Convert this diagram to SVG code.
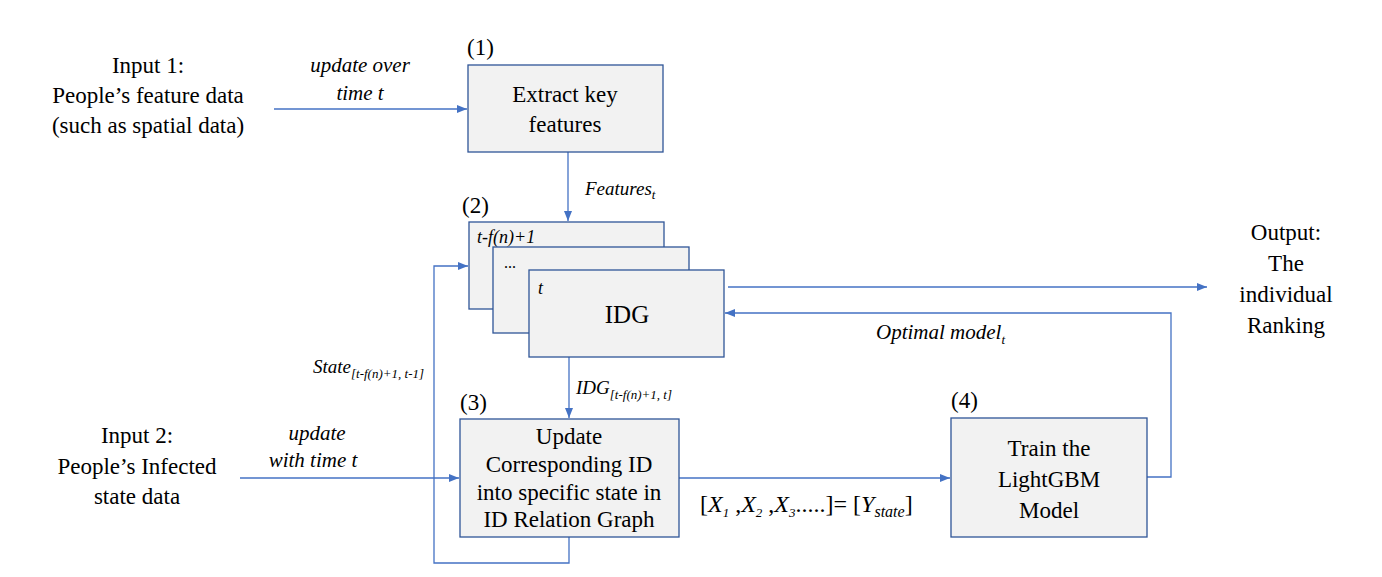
<svg xmlns="http://www.w3.org/2000/svg" width="1382" height="577" viewBox="0 0 1382 577">
<style>
  .box { fill: #F2F2F2; stroke: #2F5597; stroke-width: 1.3; }
  .conn { fill: none; stroke: #4472C4; stroke-width: 1.3; }
</style>
<defs>
  <marker id="arr" markerUnits="userSpaceOnUse" markerWidth="11" markerHeight="9" refX="10" refY="4" orient="auto">
    <path d="M0,0 L10,4 L0,8 z" fill="#4472C4"/>
  </marker>
</defs>
<rect width="1382" height="577" fill="#FFFFFF"/>

<g id="connectors">
  <line class="conn" x1="274" y1="109" x2="467" y2="109" marker-end="url(#arr)"/>
  <line class="conn" x1="568" y1="152" x2="568" y2="221" marker-end="url(#arr)"/>
  <polyline class="conn" points="569,537 569,563 434,563 434,266 468,266" marker-end="url(#arr)"/>
  <line class="conn" x1="240" y1="478" x2="459" y2="478" marker-end="url(#arr)"/>
  <line class="conn" x1="569" y1="357" x2="569" y2="418" marker-end="url(#arr)"/>
  <line class="conn" x1="679" y1="478" x2="950" y2="478" marker-end="url(#arr)"/>
  <polyline class="conn" points="1147,477 1171,477 1171,313 725,313" marker-end="url(#arr)"/>
  <line class="conn" x1="728" y1="287" x2="1207" y2="287" marker-end="url(#arr)"/>
</g>

<g id="input1">
  <text font-family="Times New Roman" font-size="23" text-anchor="middle" x="148" y="73">Input 1:</text>
  <text font-family="Times New Roman" font-size="23" text-anchor="middle" x="148" y="103">People’s feature data</text>
  <text font-family="Times New Roman" font-size="23" text-anchor="middle" x="148" y="133">(such as spatial data)</text>
</g>

<g id="label-update-over">
  <text font-family="Times New Roman" font-size="21" font-style="italic" text-anchor="middle" x="360" y="72">update over</text>
  <text font-family="Times New Roman" font-size="21" font-style="italic" text-anchor="middle" x="360" y="100">time t</text>
</g>

<g id="node1">
  <text font-family="Times New Roman" font-size="23" x="467" y="55">(1)</text>
  <rect class="box" x="468" y="65" width="195" height="87"/>
  <text font-family="Times New Roman" font-size="23" text-anchor="middle" x="565" y="102">Extract key</text>
  <text font-family="Times New Roman" font-size="23" text-anchor="middle" x="565" y="132">features</text>
</g>

<g id="label-features">
  <text font-family="Times New Roman" font-style="italic" x="585" y="195" font-size="19">Features<tspan font-size="13" dy="4">t</tspan></text>
</g>

<g id="node2">
  <text font-family="Times New Roman" x="462" y="213" font-size="23">(2)</text>
  <rect class="box" x="469" y="222" width="195" height="87"/>
  <text font-family="Times New Roman" x="477" y="243" font-size="18" font-style="italic">t-f(n)+1</text>
  <rect class="box" x="493" y="247" width="196" height="86"/>
  <text font-family="Times New Roman" x="504" y="268" font-size="16">...</text>
  <rect class="box" x="529" y="270" width="195" height="87"/>
  <text font-family="Times New Roman" x="538" y="294" font-size="18" font-style="italic">t</text>
  <text font-family="Times New Roman" x="627" y="323" font-size="25" text-anchor="middle">IDG</text>
</g>

<g id="label-state">
  <text font-family="Times New Roman" font-style="italic" x="313" y="373" font-size="19">State<tspan font-size="13" dy="5">[t-f(n)+1, t-1]</tspan></text>
</g>

<g id="label-idg">
  <text font-family="Times New Roman" font-style="italic" x="576" y="394" font-size="19">IDG<tspan font-size="13" dy="5">[t-f(n)+1, t]</tspan></text>
</g>

<g id="input2">
  <text font-family="Times New Roman" font-size="23" text-anchor="middle" x="137" y="443">Input 2:</text>
  <text font-family="Times New Roman" font-size="23" text-anchor="middle" x="137" y="474">People’s Infected</text>
  <text font-family="Times New Roman" font-size="23" text-anchor="middle" x="137" y="504">state data</text>
</g>

<g id="label-update-with">
  <text font-family="Times New Roman" font-size="21" font-style="italic" text-anchor="middle" x="317" y="440">update</text>
  <text font-family="Times New Roman" font-size="21" font-style="italic" text-anchor="middle" x="313" y="467">with time t</text>
</g>

<g id="node3">
  <text font-family="Times New Roman" font-size="23" x="460" y="410">(3)</text>
  <rect class="box" x="460" y="419" width="219" height="118"/>
  <text font-family="Times New Roman" font-size="23" text-anchor="middle" x="569" y="444">Update</text>
  <text font-family="Times New Roman" font-size="23" text-anchor="middle" x="569" y="472">Corresponding ID</text>
  <text font-family="Times New Roman" font-size="23" text-anchor="middle" x="569" y="500">into specific state in</text>
  <text font-family="Times New Roman" font-size="23" text-anchor="middle" x="569" y="527">ID Relation Graph</text>
</g>

<g id="label-xy">
  <text font-family="Times New Roman" x="700" y="512" font-size="24">[<tspan font-style="italic">X</tspan><tspan font-size="13" font-style="italic" dy="5">1</tspan><tspan dy="-5"> ,</tspan><tspan font-style="italic">X</tspan><tspan font-size="13" font-style="italic" dy="5">2</tspan><tspan dy="-5"> ,</tspan><tspan font-style="italic">X</tspan><tspan font-size="13" font-style="italic" dy="5">3</tspan><tspan dy="-5">.....]= [</tspan><tspan font-style="italic">Y</tspan><tspan font-size="16" font-style="italic" dy="5">state</tspan><tspan dy="-5">]</tspan></text>
</g>

<g id="node4">
  <text font-family="Times New Roman" font-size="23" x="951" y="408">(4)</text>
  <rect class="box" x="951" y="418" width="196" height="119"/>
  <text font-family="Times New Roman" font-size="23" text-anchor="middle" x="1049" y="456">Train the</text>
  <text font-family="Times New Roman" font-size="23" text-anchor="middle" x="1049" y="487">LightGBM</text>
  <text font-family="Times New Roman" font-size="23" text-anchor="middle" x="1049" y="518">Model</text>
</g>

<g id="label-optimal">
  <text font-family="Times New Roman" font-style="italic" x="876" y="339" font-size="21">Optimal model<tspan font-size="13" dy="5">t</tspan></text>
</g>

<g id="output">
  <text font-family="Times New Roman" font-size="23" text-anchor="middle" x="1286" y="240">Output:</text>
  <text font-family="Times New Roman" font-size="23" text-anchor="middle" x="1286" y="271">The</text>
  <text font-family="Times New Roman" font-size="23" text-anchor="middle" x="1286" y="302">individual</text>
  <text font-family="Times New Roman" font-size="23" text-anchor="middle" x="1286" y="333">Ranking</text>
</g>
</svg>
